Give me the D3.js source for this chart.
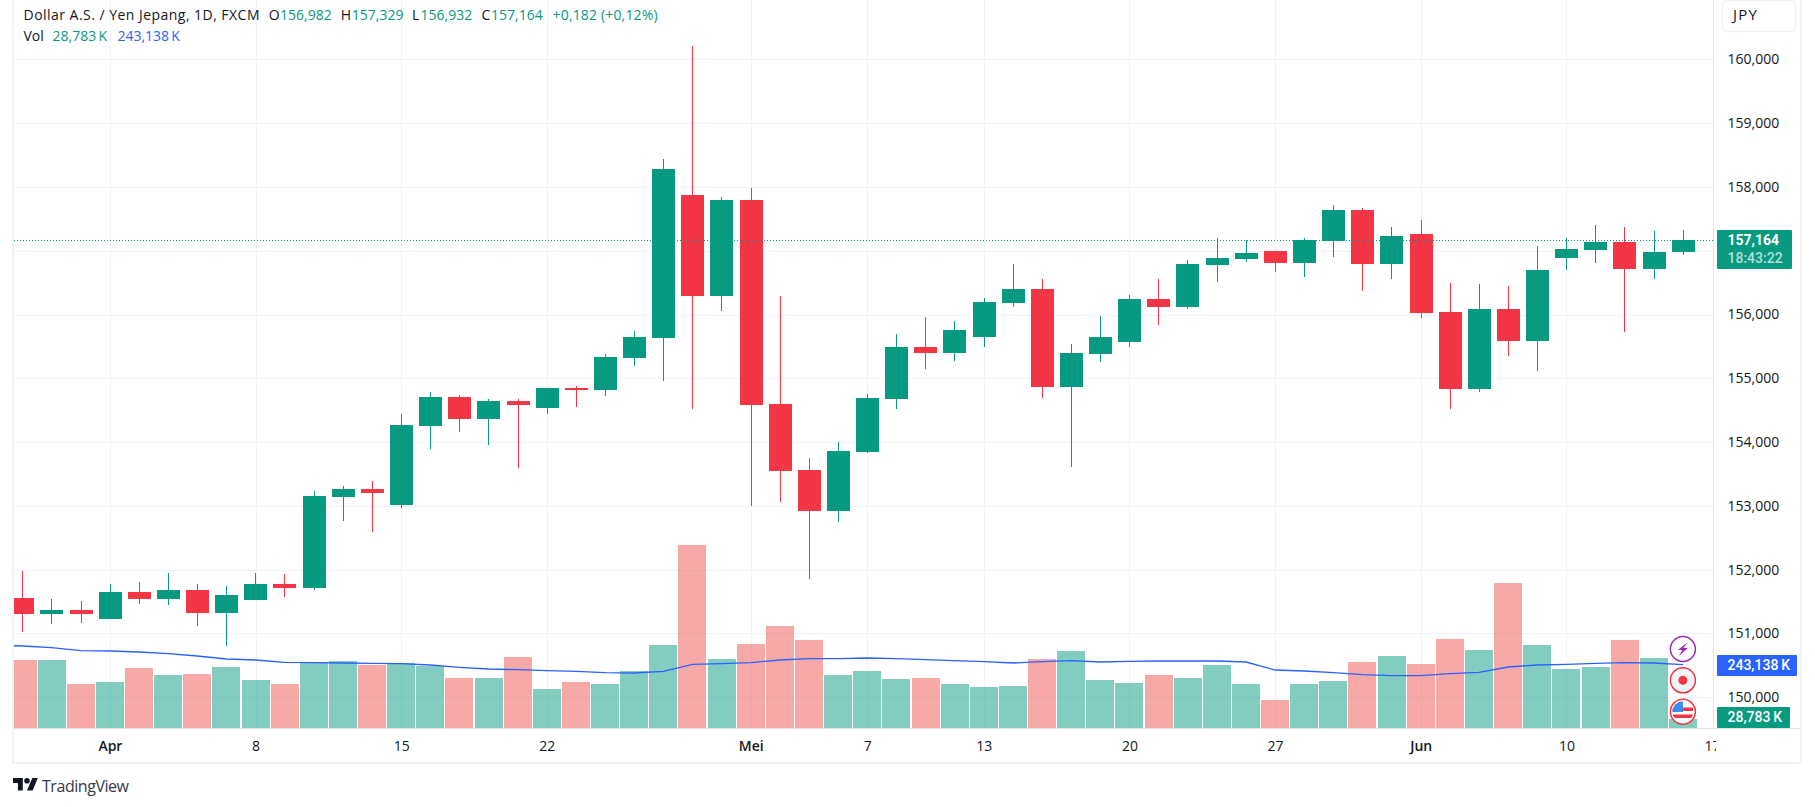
<!DOCTYPE html>
<html>
<head>
<meta charset="utf-8">
<title>USDJPY</title>
<script src="https://cdn.jsdelivr.net/npm/d3@7"></script>
<style>
  html, body { margin: 0; padding: 0; background: #fff; }
  svg { display: block; }
  text { font-family: "Open Sans", Roboto, sans-serif; font-size: 14px; fill: #131722; }
</style>
</head>
<body>
<div id="chart"></div>
<script>
// daily bars, 27 Mar to 14 Jun
var opens = [151.56,151.31,151.37,151.23,151.65,151.54,151.68,151.32,151.53,151.78,151.71,153.14,153.26,153.01,154.25,154.71,154.36,154.64,154.53,154.85,154.82,155.32,155.63,157.87,156.29,157.79,154.60,153.56,152.92,153.84,154.68,155.49,155.40,155.65,156.18,156.40,154.86,155.38,155.57,156.24,156.12,156.78,156.87,157.00,156.81,157.15,157.64,156.79,157.26,156.04,154.83,156.09,155.58,156.89,157.01,157.14,156.71,156.982];
var highs = [151.98,151.54,151.51,151.78,151.81,151.95,151.78,151.74,151.95,151.93,153.23,153.31,153.39,154.44,154.79,154.74,154.68,154.68,154.85,154.88,155.38,155.74,158.44,160.21,157.84,157.98,156.29,153.75,154.00,154.75,155.69,155.96,155.90,156.26,156.79,156.56,155.54,155.98,156.31,156.56,156.85,157.20,157.17,157.00,157.20,157.72,157.67,157.37,157.48,156.49,156.48,156.45,157.07,157.20,157.40,157.37,157.31,157.329];
var lows = [151.02,151.15,151.16,151.23,151.46,151.45,151.12,150.80,151.53,151.57,151.68,152.76,152.59,152.97,153.89,154.16,153.95,153.59,154.44,154.55,154.72,155.19,154.96,154.52,156.05,153.00,153.06,151.85,152.75,153.83,154.52,155.15,155.27,155.49,156.12,154.69,153.61,155.26,155.49,155.84,156.09,156.51,156.82,156.67,156.59,156.90,156.37,156.56,155.95,154.52,154.79,155.35,155.11,156.70,156.81,155.73,156.56,156.932];
var closes = [151.31,151.37,151.31,151.65,151.54,151.68,151.32,151.60,151.78,151.71,153.16,153.26,153.20,154.27,154.71,154.36,154.64,154.58,154.85,154.82,155.33,155.65,158.28,156.29,157.79,154.58,153.55,152.92,153.86,154.69,155.49,155.40,155.76,156.20,156.40,154.86,155.40,155.65,156.24,156.12,156.79,156.89,156.96,156.81,157.17,157.64,156.79,157.23,156.02,154.83,156.09,155.58,156.70,157.03,157.14,156.71,156.98,157.164];
// volume in K
var volumes = [261.7,261.7,167.0,174.9,230.1,202.5,206.4,234.1,182.8,167.0,249.9,257.8,242.0,249.9,238.0,190.6,190.6,273.6,147.2,174.9,167.0,218.3,321.0,715.7,265.7,324.9,396.0,340.7,202.5,218.3,186.7,190.6,167.0,155.1,159.1,265.7,297.2,182.8,170.9,202.5,190.6,242.0,167.0,103.8,167.0,178.8,253.8,277.5,245.9,344.6,301.2,565.7,321.0,226.2,234.1,340.7,269.6,28.783];
// volume average, first entry belongs to the bar before the window
var volumeMa = [320.0,317.0,310.3,298.4,297.2,293.3,286.6,277.5,265.7,261.7,252.6,251.1,249.9,248.7,247.1,242.0,232.9,226.2,223.4,219.5,217.1,211.6,210.4,217.1,244.7,247.1,251.1,261.7,266.8,266.8,269.6,266.8,262.9,259.0,255.0,249.9,255.0,259.0,253.8,256.6,257.8,257.8,257.8,253.8,222.2,218.3,211.6,203.7,199.7,199.7,207.6,213.2,234.1,242.0,244.7,248.7,251.1,249.9,243.138];

var priceTicks = [150,151,152,153,154,155,156,157,158,159,160];
var timeTickIndex = [3,8,13,18,25,29,33,38,43,48,53,58];
var timeTickLabels = ["Apr","8","15","22","Mei","7","13","20","27","Jun","10","17"];
var monthLabels = ["Apr","Mei","Jun"];
var lastPrice = 157.164;

var green = "#089981", red = "#f23645", blue = "#2962ff", gridColor = "#f0f3fa", borderColor = "#e0e3eb";

var width = 1815, height = 807,
    paneLeft = 14, paneRight = 1713, paneBottom = 728;

var svg = d3.select("#chart").append("svg")
    .attr("width", width)
    .attr("height", height);

var x = d3.scaleLinear().domain([0, 57]).range([22.5, 1682.9]);
var y = d3.scaleLinear().domain([160, 150]).range([59.3, 697.3]);
var yVol = d3.scaleLinear().domain([28.783, 243.138]).range([719, 664.7]);

var locale = d3.formatLocale({ decimal: ",", thousands: ".", grouping: [3], currency: ["", ""] });
var price = locale.format(".3f");

var defs = svg.append("defs");
defs.append("clipPath").attr("id", "pane").append("rect")
    .attr("x", paneLeft).attr("y", 0)
    .attr("width", paneRight - paneLeft).attr("height", paneBottom);
defs.append("clipPath").attr("id", "timeClip").append("rect")
    .attr("x", paneLeft).attr("y", paneBottom)
    .attr("width", 1716 - paneLeft).attr("height", 34);
defs.append("clipPath").attr("id", "flagClip").append("circle")
    .attr("cx", x(57)).attr("cy", 711.7).attr("r", 10.5);

// grid
svg.append("g").selectAll("line.h")
    .data(priceTicks)
    .enter().append("line")
    .attr("class", "h")
    .attr("x1", paneLeft).attr("x2", paneRight)
    .attr("y1", function (d) { return Math.round(y(d)) + 0.5; })
    .attr("y2", function (d) { return Math.round(y(d)) + 0.5; })
    .attr("stroke", gridColor);

svg.append("g").selectAll("line.v")
    .data(timeTickIndex.slice(0, 11))
    .enter().append("line")
    .attr("class", "v")
    .attr("x1", function (d) { return Math.round(x(d)) + 0.5; })
    .attr("x2", function (d) { return Math.round(x(d)) + 0.5; })
    .attr("y1", 0).attr("y2", paneBottom)
    .attr("stroke", gridColor);

var pane = svg.append("g").attr("clip-path", "url(#pane)");

// volume bars
pane.append("g").selectAll("rect")
    .data(volumes)
    .enter().append("rect")
    .attr("x", function (d, i) { return Math.round(x(i) - 14); })
    .attr("width", function (d, i) { return Math.round(x(i) + 14) - Math.round(x(i) - 14); })
    .attr("y", function (d) { return Math.round(yVol(d)); })
    .attr("height", function (d) { return paneBottom - Math.round(yVol(d)); })
    .attr("fill", function (d, i) { return closes[i] < opens[i] ? "rgba(239,83,80,0.5)" : "rgba(8,153,129,0.5)"; });

// volume average
var maLine = d3.line()
    .x(function (d, i) { return x(i - 1); })
    .y(function (d) { return yVol(d); });

pane.append("path")
    .attr("d", maLine(volumeMa))
    .attr("fill", "none")
    .attr("stroke", blue)
    .attr("stroke-width", 1.3);

// wicks
pane.append("g").selectAll("rect")
    .data(highs)
    .enter().append("rect")
    .attr("x", function (d, i) { return Math.round(x(i) - 0.2); })
    .attr("width", 1)
    .attr("y", function (d) { return Math.round(y(d)); })
    .attr("height", function (d, i) { return Math.round(y(lows[i])) - Math.round(y(d)); })
    .attr("fill", function (d, i) { return closes[i] < opens[i] ? red : green; });

// bodies
pane.append("g").selectAll("rect")
    .data(opens)
    .enter().append("rect")
    .attr("x", function (d, i) { return Math.round(x(i) - 0.2) - 11; })
    .attr("width", 23)
    .attr("y", function (d, i) { return Math.round(y(Math.max(d, closes[i]))); })
    .attr("height", function (d, i) {
        return Math.max(1, Math.round(y(Math.min(d, closes[i]))) - Math.round(y(Math.max(d, closes[i]))));
    })
    .attr("fill", function (d, i) { return closes[i] < d ? red : green; });

// last price line
pane.append("line")
    .attr("x1", paneLeft).attr("x2", paneRight)
    .attr("y1", Math.round(y(lastPrice)) + 0.5)
    .attr("y2", Math.round(y(lastPrice)) + 0.5)
    .attr("stroke", green)
    .attr("stroke-dasharray", "1 2");

// frame
svg.append("rect").attr("x", 12).attr("y", 0).attr("width", 2).attr("height", 764).attr("fill", gridColor);
svg.append("rect").attr("x", 1800).attr("y", 0).attr("width", 2).attr("height", 764).attr("fill", gridColor);
svg.append("rect").attr("x", 12).attr("y", 762).attr("width", 1790).attr("height", 2).attr("fill", gridColor);
svg.append("rect").attr("x", paneLeft).attr("y", paneBottom).attr("width", 1786).attr("height", 1).attr("fill", borderColor);
svg.append("rect").attr("x", paneRight).attr("y", 0).attr("width", 1).attr("height", paneBottom).attr("fill", borderColor);

// price axis, the 157 label sits under the last price tag so it is left out
var priceAxis = svg.append("g")
    .attr("transform", "translate(1727.5,0)")
    .call(d3.axisRight(y)
        .tickValues(priceTicks.filter(function (d) { return d !== 157; }))
        .tickSize(0).tickPadding(0).tickFormat(price));
priceAxis.select(".domain").remove();
priceAxis.selectAll("text")
    .attr("fill", null);
priceAxis.attr("font-family", null).attr("font-size", null);

// time axis
var timeAxis = svg.append("g")
    .attr("clip-path", "url(#timeClip)")
    .append("g")
    .attr("transform", "translate(0,745.7)")
    .call(d3.axisBottom(x).tickValues(timeTickIndex).tickSize(0).tickPadding(0)
        .tickFormat(function (d, i) { return timeTickLabels[i]; }));
timeAxis.select(".domain").remove();
timeAxis.attr("font-family", null).attr("font-size", null);
timeAxis.selectAll("text")
    .attr("y", 0).attr("dy", ".35em")
    .attr("fill", null)
    .style("font-weight", function (d, i) { return monthLabels.indexOf(timeTickLabels[i]) >= 0 ? 600 : 400; });

// header
var header = svg.append("g");
function label(txt, px, py, color) {
    return header.append("text")
        .attr("x", px).attr("y", py).attr("dy", ".35em")
        .style("fill", color || "#131722")
        .text(txt);
}
label("Dollar A.S. / Yen Jepang, 1D, FXCM", 23.5, 15).attr("textLength", 236);
label("O", 268.8, 15);
label(price(opens[57]), 280, 15, green);
label("H", 340.7, 15);
label(price(highs[57]), 351.8, 15, green);
label("L", 412, 15);
label(price(lows[57]), 420.6, 15, green);
label("C", 481.4, 15);
label(price(closes[57]), 491, 15, green);
label("+0,182 (+0,12%)", 552.6, 15, green).attr("textLength", 105);
label("Vol", 23.5, 36);
label("28,783\u2009K", 52.6, 36, green);
label("243,138\u2009K", 117.4, 36, blue);

// currency button
svg.append("rect")
    .attr("x", 1722.5).attr("y", 0.5).attr("width", 73).attr("height", 31).attr("rx", 5)
    .attr("fill", "#fff").attr("stroke", gridColor).attr("stroke-width", 1.5);
svg.append("text").attr("x", 1733).attr("y", 15).attr("dy", ".35em")
    .attr("textLength", 24)
    .style("font-size", "15px")
    .text("JPY");

// value tags
function tag(top, bottom, right, color) {
    svg.append("rect")
        .attr("x", 1717).attr("y", top)
        .attr("width", right - 1717).attr("height", bottom - top)
        .attr("rx", 1)
        .attr("fill", color);
}
function tagText(txt, py, opacity, weight) {
    svg.append("text")
        .attr("x", 1727.5).attr("y", py).attr("dy", ".35em")
        .style("font-family", "Roboto, sans-serif")
        .style("fill", "#fff")
        .style("fill-opacity", opacity)
        .style("font-weight", weight)
        .text(txt);
}
tag(230, 269, 1792, green);
tagText("157,164", 240, 1, 700);
tagText("18:43:22", 257.7, 0.7, 500);
tag(655, 676, 1797, blue);
tagText("243,138\u2009K", 665.5, 1, 500);
tag(707, 728, 1790, green);
tagText("28,783\u2009K", 717, 1, 500);

// event badges on the last bar
var cx = x(57);
svg.append("circle").attr("cx", cx).attr("cy", 649).attr("r", 12.5)
    .attr("fill", "#fff").attr("stroke", "#9c27b0").attr("stroke-width", 1.5);
svg.append("path")
    .attr("transform", "translate(" + cx + ",649)")
    .attr("d", "M5 -7 L-5 1 L-0.5 1 L-4 7 L5 -1 L0.5 -1 Z")
    .attr("fill", "#9c27b0");

svg.append("circle").attr("cx", cx).attr("cy", 680.3).attr("r", 12.5)
    .attr("fill", gridColor).attr("stroke", red).attr("stroke-width", 1.5);
svg.append("circle").attr("cx", cx).attr("cy", 680.3).attr("r", 4.5).attr("fill", red);

svg.append("circle").attr("cx", cx).attr("cy", 711.7).attr("r", 12.5)
    .attr("fill", "#fff").attr("stroke", red).attr("stroke-width", 1.5);
var flag = svg.append("g").attr("clip-path", "url(#flagClip)");
flag.append("rect").attr("x", cx - 11).attr("y", 707.5).attr("width", 22).attr("height", 3.5).attr("fill", red);
flag.append("rect").attr("x", cx - 11).attr("y", 714.5).attr("width", 22).attr("height", 3.5).attr("fill", red);
flag.append("rect").attr("x", cx - 11).attr("y", 701).attr("width", 11).attr("height", 11).attr("fill", "#3d8bea");

// logo
svg.append("path")
    .attr("transform", "translate(13,775.2) scale(0.7)")
    .attr("d", "M14 22H7V11H0V4h14v18zM28 22h-8l7.5-18h8L28 22z")
    .attr("fill", "#131722");
svg.append("circle").attr("cx", 13 + 20 * 0.7).attr("cy", 775.2 + 8 * 0.7).attr("r", 4 * 0.7).attr("fill", "#131722");
svg.append("text")
    .attr("x", 42).attr("y", 786).attr("dy", ".35em")
    .attr("textLength", 87)
    .style("font-size", "16px").style("fill", "#363a45")
    .text("TradingView");
</script>
</body>
</html>
